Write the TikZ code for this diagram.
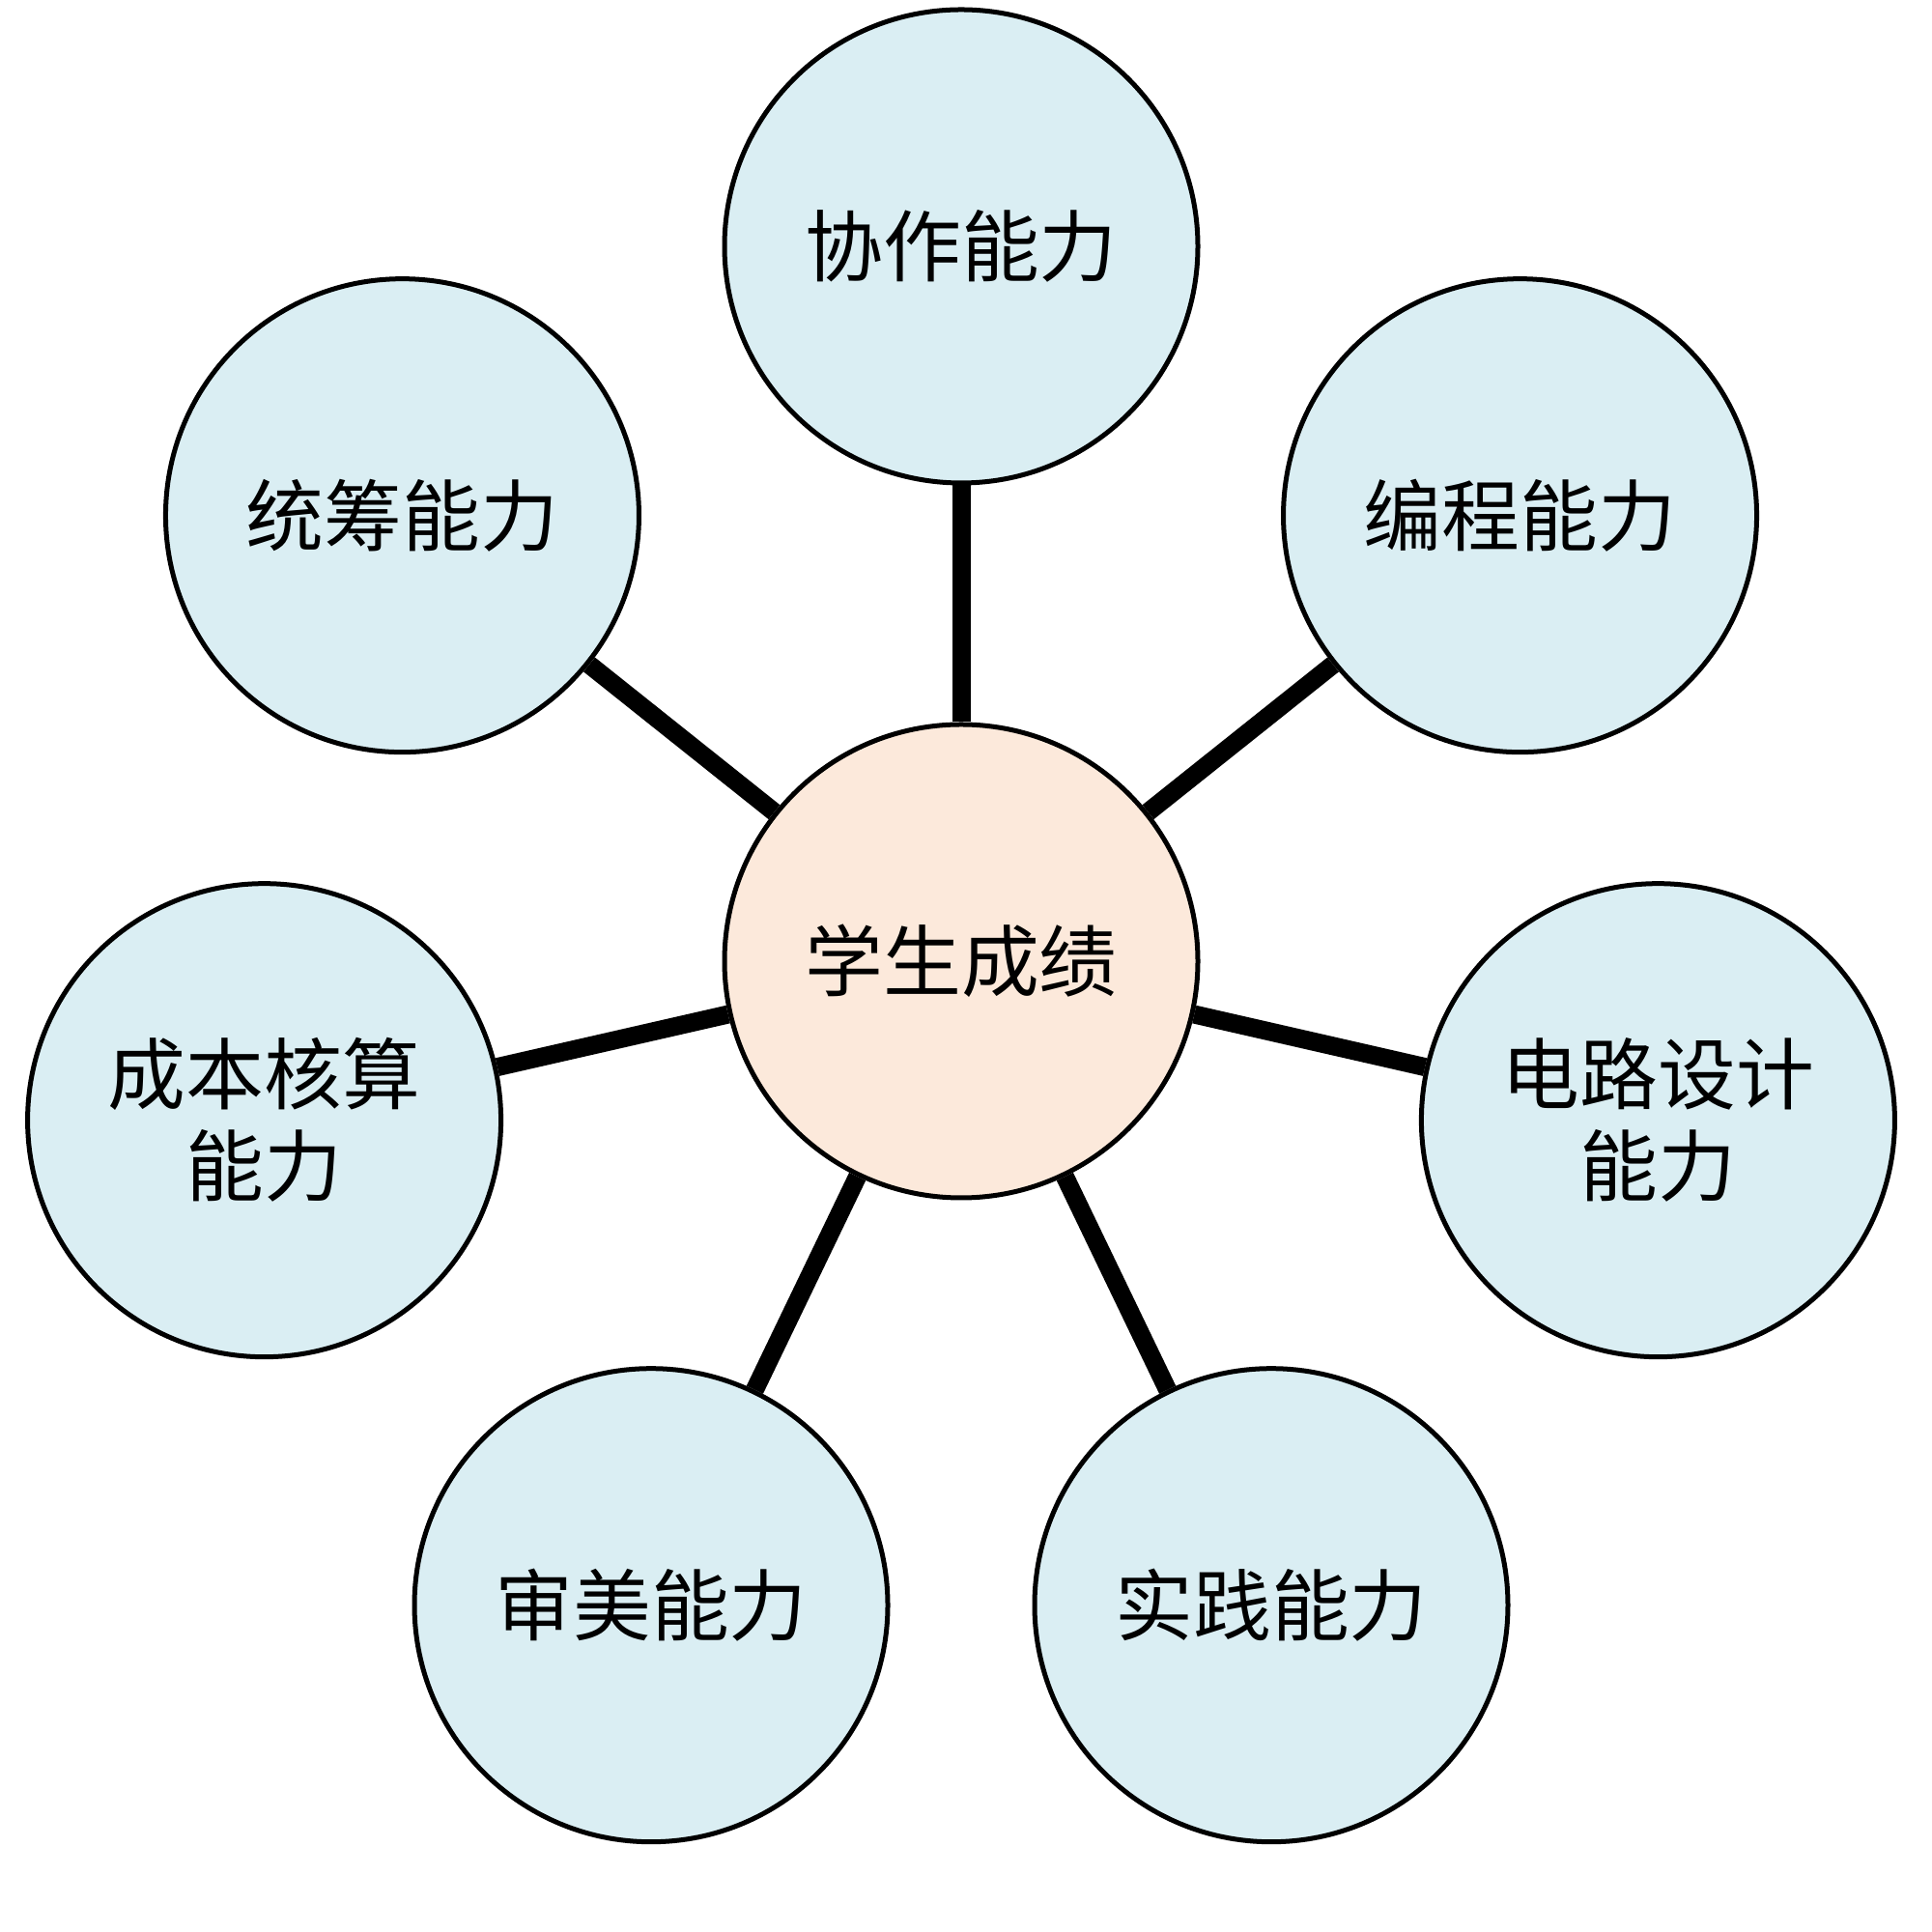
\documentclass[tikz,border=0pt]{standalone}
\usepackage{fontspec}
\newfontfamily\cjk{Noto Sans CJK SC}
\usetikzlibrary{calc}
\definecolor{satfill}{HTML}{DAEEF3}
\definecolor{hubfill}{HTML}{FCE9DB}
\begin{document}
\begin{tikzpicture}[x=1cm,y=1cm,
  bubble/.style={circle, draw=black, line width=0.05cm, minimum size=4.9cm, inner sep=0pt,
    align=center, text=black, font=\cjk\fontsize{23}{27}\selectfont},
  sat/.style={bubble, fill=satfill},
  hub/.style={bubble, fill=hubfill},
  link/.style={line width=0.19cm, draw=black}]
\useasboundingbox (0,0) rectangle (20,20);
\coordinate (O) at (9.95,10.05);
\node[hub] (hub) at (O) {学生成绩};
\node[sat] (s1) at ($(O)+(90:7.4)$) {协作能力};
\node[sat] (s2) at ($(O)+(38.57:7.4)$) {编程能力};
\node[sat] (s3) at ($(O)+(-12.86:7.4)$) {电路设计\\能力};
\node[sat] (s4) at ($(O)+(-64.29:7.4)$) {实践能力};
\node[sat] (s5) at ($(O)+(-115.71:7.4)$) {审美能力};
\node[sat] (s6) at ($(O)+(-167.14:7.4)$) {成本核算\\能力};
\node[sat] (s7) at ($(O)+(141.43:7.4)$) {统筹能力};
\foreach \s in {s1,s2,s3,s4,s5,s6,s7} {
  \draw[link] (hub) -- (\s);
}
\end{tikzpicture}
\end{document}
